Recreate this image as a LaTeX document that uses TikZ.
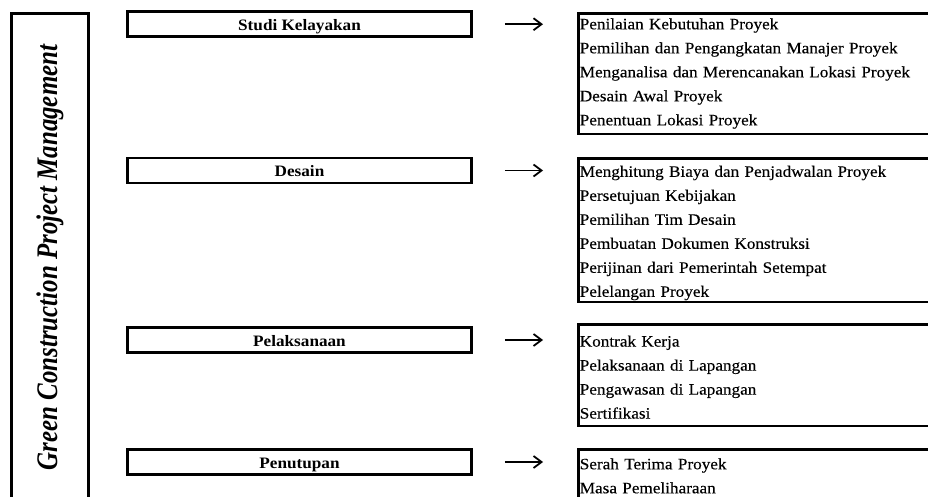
\documentclass[tikz,border=0pt]{standalone}
\usepackage{fontspec}
\setmainfont{Liberation Serif}[FakeStretch=1.08, UprightFeatures={FakeBold=0.3}]
\newfontfamily\titlefont{Liberation Serif}
\usetikzlibrary{arrows.meta}

\tikzset{
	frame/.style = {draw, line width = 2.6pt, inner sep = 0pt},
	stagebox/.style = {frame, minimum width = 344pt, minimum height = 25pt, text height = 15pt, text depth = 2pt, font = \fontsize{15.9}{18}\selectfont\bfseries},
	listbox/.style = {frame, anchor = north west, text width = 360pt, inner xsep = 1.5pt, align = left, font = \fontsize{15.9}{24}\selectfont},
	arr/.style = {-{Straight Barb[length=8pt, width=12pt]}, line width = 1.8pt, shorten < = 32pt, shorten > = 34pt}
}

\begin{document}
\begin{tikzpicture}[x = 1pt, y = -1pt]
	\useasboundingbox (0,0) rectangle (928,497);
	\clip (0,0) rectangle (928,497);

	\node [frame, rotate = 90, minimum width = 488pt, minimum height = 77pt] (title) at (50,257.5)
		{\titlefont\fontsize{24.9}{26}\selectfont\bfseries\itshape\scalebox{1}[1.2]{Green Construction Project Management}};

	\foreach \id/\sy/\ltop/\lh/\ld/\stage/\items in {
		studi/24.2/12/16/104.7/{Studi Kelayakan}/{Penilaian Kebutuhan Proyek\\Pemilihan dan Pengangkatan Manajer Proyek\\Menganalisa dan Merencanakan Lokasi Proyek\\Desain Awal Proyek\\Penentuan Lokasi Proyek},
		desain/170.5/157/18.5/125.2/{Desain}/{Menghitung Biaya dan Penjadwalan Proyek\\Persetujuan Kebijakan\\Pemilihan Tim Desain\\Pembuatan Dokumen Konstruksi\\Perijinan dari Pemerintah Setempat\\Pelelangan Proyek},
		laksana/340/323.3/22/79.2/{Pelaksanaan}/{Kontrak Kerja\\Pelaksanaan di Lapangan\\Pengawasan di Lapangan\\Sertifikasi},
		tutup/462/448.3/19.7/50/{Penutupan}/{Serah Terima Proyek\\Masa Pemeliharaan}%
	}
	{
		\node [stagebox] (\id) at (299.5,\sy) {\stage};
		\node [listbox, text height = \lh pt, text depth = \ld pt] (\id-list) at (577,\ltop) {\items};
		\draw [arr] (\id) -- (\id -| \id-list.west);
	}
\end{tikzpicture}
\end{document}
